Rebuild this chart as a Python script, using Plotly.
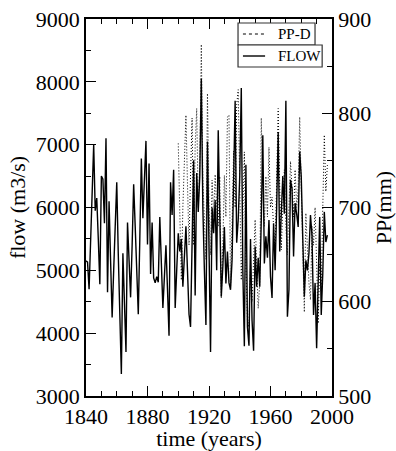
import plotly.graph_objects as go

# ---- data ----
flow_years = list(range(1840, 1998))
flow_values = [
    5150, 5130, 4700, 5450, 6000, 7000, 5950, 6150, 5500, 4780,   # 1840-1849
    6500, 6450, 5750, 7100, 4650, 6100, 5150, 4250, 5000, 5700,   # 1850-1859
    6400, 5250, 4400, 3350, 5270, 4400, 3700, 5760, 5150, 4570,   # 1860-1869
    5400, 6370, 5700, 5000, 4300, 5500, 6780, 5830, 6450, 7060,   # 1870-1879
    5410, 6700, 4940, 5760, 4880, 4800, 4900, 4810, 5850, 5000,   # 1880-1889
    4400, 4900, 5400, 4700, 3960, 6400, 5880, 6600, 4400, 5000,   # 1890-1899
    5590, 5300, 5500, 4740, 5320, 5700, 5000, 4300, 4100, 5540,   # 1900-1909
    6750, 4600, 6550, 5930, 6500, 8050, 6000, 5000, 4130, 7050,   # 1910-1919
    5300, 3700, 6000, 5590, 6120, 5000, 7230, 5900, 4580, 5060,   # 1920-1929
    5690, 4790, 5300, 4800, 4690, 5160, 6300, 7700, 5440, 5800,   # 1930-1939
    6500, 7900, 5000, 3790, 6680, 4100, 3800, 5500, 4200, 3720,   # 1940-1949
    5380, 4740, 5200, 4740, 5800, 7150, 5110, 5540, 5200, 5800,   # 1950-1959
    4900, 4560, 5750, 5000, 6000, 7200, 5300, 5800, 6500, 5900,   # 1960-1969
    7700, 4260, 4690, 6440, 6300, 5220, 6070, 5900, 5690, 6890,   # 1970-1979
    6490, 5500, 4580, 5160, 5000, 5270, 5880, 5550, 4290, 4800,   # 1980-1989
    3760, 4790, 5850, 4290, 4950, 5930, 5450, 5560,               # 1990-1997
]

pp_years = list(range(1900, 1998))
pp_values = [
    768, 690, 623, 700, 750, 798, 725, 660, 735, 795,   # 1900-1909
    660, 765, 805, 700, 745, 873, 730, 690, 645, 821,   # 1910-1919
    705, 650, 729, 690, 735, 700, 680, 733, 604, 660,   # 1920-1929
    734, 690, 796, 798, 615, 680, 760, 700, 809, 825,   # 1930-1939
    700, 623, 690, 759, 640, 581, 573, 640, 600, 650,   # 1940-1949
    687, 640, 593, 620, 795, 720, 680, 733, 690, 764,   # 1950-1959
    700, 711, 680, 648, 730, 805, 720, 655, 700, 740,   # 1960-1969
    680, 650, 700, 749, 720, 690, 740, 700, 720, 796,   # 1970-1979
    720, 650, 589, 694, 650, 620, 602, 680, 660, 700,   # 1980-1989
    640, 577, 640, 611, 700, 777, 717, 745,             # 1990-1997
]

legend_names = ["PP-D", "FLOW"]

FONT = "Liberation Serif, DejaVu Serif, serif"

fig = go.Figure()
fig.add_trace(go.Scatter(
    x=pp_years, y=pp_values, yaxis="y2", mode="lines", name=legend_names[0],
    line=dict(color="black", width=1, dash="1px,2px"), showlegend=False,
))
fig.add_trace(go.Scatter(
    x=flow_years, y=flow_values, mode="lines", name=legend_names[1],
    line=dict(color="black", width=1.4), showlegend=False,
))

axis_common = dict(
    ticks="inside", ticklen=10, tickwidth=1.2, tickcolor="black",
    showline=True, linewidth=1.5, linecolor="black",
    showgrid=False, zeroline=False, automargin=False,
    tickfont=dict(family=FONT, size=22, color="black"),
)

# legend boxes (two stacked boxes, one per series), in paper coordinates
box_x0, text_x = 0.618, 0.772
boxes = [
    dict(x1=0.931, y0=0.931, y1=0.9894, dash="dot", width=1),
    dict(x1=0.960, y0=0.8727, y1=0.931, dash="solid", width=1.4),
]
shapes, annotations = [], []
for name, b in zip(legend_names, boxes):
    ymid = (b["y0"] + b["y1"]) / 2
    shapes.append(dict(type="rect", xref="paper", yref="paper",
                       x0=box_x0, x1=b["x1"], y0=b["y0"], y1=b["y1"],
                       line=dict(color="#333", width=1.2), fillcolor="white", layer="above"))
    shapes.append(dict(type="line", xref="paper", yref="paper",
                       x0=0.638, x1=0.728, y0=ymid, y1=ymid,
                       line=dict(color="black", width=b["width"], dash=b["dash"]), layer="above"))
    annotations.append(dict(xref="paper", yref="paper", x=text_x, y=ymid,
                            xanchor="left", yanchor="middle", showarrow=False,
                            text=name, font=dict(family=FONT, size=15, color="black")))

fig.update_layout(
    width=396, height=451,
    margin=dict(l=86, r=64, t=19, b=55, autoexpand=False),
    paper_bgcolor="white", plot_bgcolor="white",
    font=dict(family=FONT, size=22, color="black"),
    xaxis=dict(
        range=[1840, 2000], tick0=1840, dtick=40, mirror="ticks",
        minor=dict(dtick=10, ticks="inside", ticklen=5, tickwidth=1, tickcolor="black"),
        title=dict(text="time (years)", font=dict(family=FONT, size=22), standoff=4),
        **axis_common,
    ),
    yaxis=dict(
        range=[3000, 9000], dtick=1000,
        minor=dict(dtick=500, ticks="inside", ticklen=5, tickwidth=1, tickcolor="black"),
        title=dict(text="flow (m3/s)", font=dict(family=FONT, size=22), standoff=4),
        **axis_common,
    ),
    yaxis2=dict(
        range=[500, 900], dtick=100, overlaying="y", side="right",
        minor=dict(dtick=50, ticks="inside", ticklen=5, tickwidth=1, tickcolor="black"),
        title=dict(text="PP(mm)", font=dict(family=FONT, size=22), standoff=4),
        **axis_common,
    ),
    shapes=shapes,
    annotations=annotations,
    showlegend=False,
)

fig.write_html(
    "out.html",
    config={"displayModeBar": False},
    post_script="document.body.style.margin='0px';document.body.style.overflow='hidden';",
)
